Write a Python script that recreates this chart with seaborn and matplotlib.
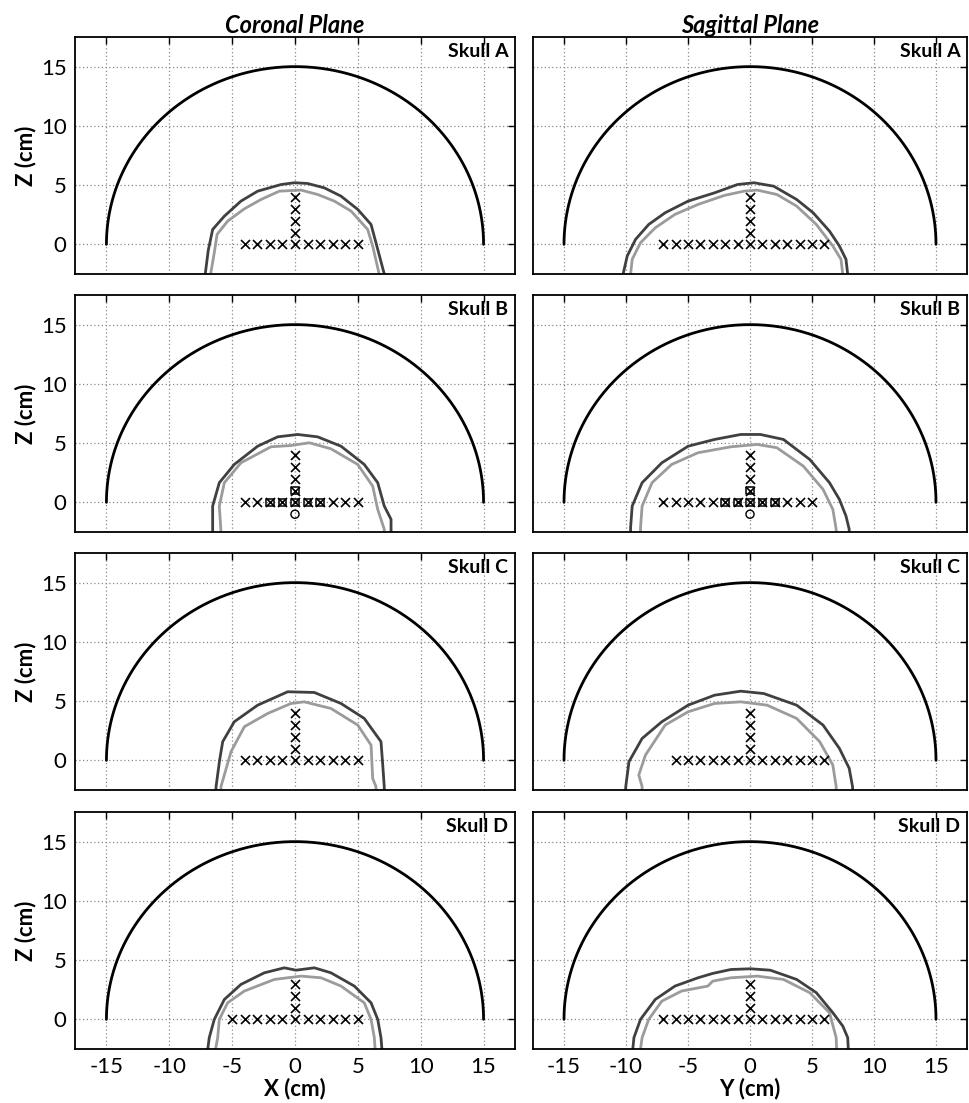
import numpy as np
import pandas as pd
import matplotlib
matplotlib.use("Agg")
import matplotlib.pyplot as plt
import seaborn as sns

sns.set_style("white")
plt.rcParams['font.family'] = ['Lato', 'DejaVu Sans']
plt.rcParams['text.color'] = 'black'
plt.rcParams['axes.labelcolor'] = 'black'

# ---------------- data ----------------
planes = ["Coronal Plane", "Sagittal Plane"]
skulls = ["Skull A", "Skull B", "Skull C", "Skull D"]
xlabels = ["X (cm)", "Y (cm)"]
ticks_x = [-15, -10, -5, 0, 5, 10, 15]
ticks_y = [0, 5, 10, 15]
hemisphere_radius = 15

# skull contours (x, z) in cm : outer (dark) and inner (light)
cor_A_outer = [(-7.2, -3), (-7.16, -2.67), (-6.9, -0.5), (-6.55, 1.26), (-5.62, 2.38), (-4.3, 3.65), (-2.97, 4.49),
               (-1.11, 5.05), (-0.05, 5.2), (1.0, 5.14), (2.33, 4.77), (3.66, 4.07), (4.99, 2.95), (6.05, 1.68),
               (6.44, 0.14), (7.1, -2.5), (7.15, -3)]
cor_A_inner = [(-6.74, -3), (-6.74, -2.67), (-6.42, -0.7), (-6.2, 0.84), (-5.36, 1.96), (-4.03, 3.0), (-2.7, 3.79),
               (-1.25, 4.49), (0.48, 4.58), (1.8, 4.21), (3.13, 3.65), (4.46, 2.81), (5.78, 1.26), (6.18, -0.14),
               (6.7, -2.53), (6.75, -3)]
sag_A_outer = [(-10.3, -3), (-10.24, -2.53), (-9.9, -0.98), (-9.23, 0.42), (-8.17, 1.68), (-6.84, 2.67), (-4.99, 3.65),
               (-2.86, 4.35), (-1.01, 5.05), (0.32, 5.2), (1.91, 4.91), (3.76, 3.79), (5.09, 2.67), (6.41, 1.12),
               (7.21, -0.14), (7.74, -1.26), (7.88, -2.53), (7.9, -3)]
sag_A_inner = [(-9.6, -3), (-9.63, -2.53), (-9.5, -1.26), (-8.83, 0.14), (-7.64, 1.4), (-6.05, 2.53), (-4.19, 3.37),
               (-2.07, 4.13), (-0.48, 4.49), (0.58, 4.58), (2.17, 4.21), (3.76, 3.23), (5.35, 1.68), (6.68, -0.14),
               (7.34, -1.26), (7.48, -2.53), (7.5, -3)]
cor_B_outer = [(-6.55, -3), (-6.55, -2.13), (-6.55, -0.31), (-6.02, 1.66), (-4.83, 3.2), (-2.97, 4.74), (-1.38, 5.53),
               (0.21, 5.73), (1.8, 5.53), (3.66, 4.74), (5.51, 3.2), (6.58, 1.66), (7.1, -0.31), (7.64, -1.43),
               (7.64, -3)]
cor_B_inner = [(-5.9, -3), (-5.9, -2.27), (-6.02, -0.31), (-5.62, 1.66), (-4.3, 3.34), (-1.91, 4.69), (-0.32, 4.8),
               (1.14, 5.03), (2.86, 4.52), (4.99, 3.2), (6.18, 1.37), (6.58, -0.59), (7.1, -2.27), (7.1, -3)]
sag_B_outer = [(-9.63, -3), (-9.63, -2.13), (-9.5, -0.31), (-8.7, 1.66), (-7.11, 3.34), (-4.99, 4.74), (-2.86, 5.31),
               (-0.75, 5.73), (0.84, 5.73), (2.7, 5.31), (4.82, 3.62), (6.41, 1.66), (7.21, 0.25), (7.74, -1.15),
               (8.0, -2.27), (8.0, -3)]
sag_B_inner = [(-8.83, -3), (-8.83, -2.13), (-8.7, -0.31), (-7.9, 1.66), (-6.32, 3.2), (-4.19, 4.19), (-1.54, 4.69),
               (0.58, 4.89), (2.17, 4.61), (4.3, 3.06), (5.89, 1.1), (6.68, -0.59), (6.95, -2.27), (6.95, -3)]
cor_C_outer = [(-6.3, -3), (-6.28, -2.22), (-6.0, 0.0), (-5.75, 1.58), (-4.83, 3.26), (-2.97, 4.66), (-0.58, 5.79),
               (1.54, 5.73), (3.66, 4.8), (5.51, 3.54), (6.84, 1.58), (6.98, -0.39), (7.1, -2.22), (7.1, -3)]
cor_C_inner = [(-5.9, -3), (-5.89, -2.22), (-5.09, 0.73), (-4.03, 2.84), (-2.17, 3.96), (-0.32, 4.8), (0.74, 4.94),
               (2.86, 4.38), (4.99, 2.98), (6.05, 1.29), (6.18, -1.52), (6.44, -2.22), (6.45, -3)]
sag_C_outer = [(-10.05, -3), (-10.02, -2.22), (-9.76, -0.11), (-8.7, 1.85), (-7.11, 3.26), (-4.99, 4.66), (-2.86, 5.5),
               (-0.75, 5.84), (1.11, 5.64), (3.76, 4.66), (5.89, 2.98), (7.21, 1.01), (8.0, -0.67), (8.27, -2.22),
               (8.3, -3)]
sag_C_inner = [(-8.7, -3), (-8.7, -2.22), (-8.97, -1.24), (-8.43, 0.45), (-6.84, 2.98), (-4.99, 4.1), (-2.86, 4.8),
               (-0.75, 4.94), (1.38, 4.66), (3.76, 3.54), (5.62, 1.58), (6.68, -0.39), (6.95, -2.22), (6.95, -3)]
cor_D_outer = [(-7.0, -3), (-6.82, -1.54), (-6.42, 0), (-5.62, 1.68), (-4.3, 2.95), (-2.44, 3.93), (-0.85, 4.35),
               (0.08, 4.15), (1.54, 4.35), (2.86, 3.93), (4.72, 2.81), (6.05, 1.4), (6.58, 0), (6.84, -1.54),
               (6.95, -3)]
cor_D_inner = [(-6.4, -3), (-6.15, -1.54), (-6.02, 0), (-5.36, 1.4), (-4.03, 2.39), (-1.64, 3.37), (0.48, 3.65),
               (2.07, 3.51), (3.66, 2.81), (5.51, 1.4), (6.05, 0), (6.31, -1.54), (6.4, -3)]
sag_D_outer = [(-9.5, -3), (-9.36, -1.54), (-8.83, 0), (-7.64, 1.68), (-6.05, 2.81), (-4.19, 3.51), (-3.0, 3.88),
               (-1.54, 4.21), (0.05, 4.27), (1.64, 4.15), (3.76, 3.37), (5.35, 2.25), (6.68, 0.56), (7.48, -0.56),
               (7.88, -1.54), (7.95, -3)]
sag_D_inner = [(-8.9, -3), (-8.7, -1.54), (-8.17, 0), (-7.11, 1.54), (-5.52, 2.39), (-3.4, 2.81), (-3.0, 3.23),
               (-1.54, 3.51), (0.58, 3.65), (2.7, 3.37), (4.82, 2.25), (6.41, 0.56), (6.95, -1.54), (7.0, -3)]

# measurement points: horizontal row at z=0 and vertical column at x=0
cor_h = [[-4, -3, -2, -1, 0, 1, 2, 3, 4, 5],
         [-4, -3, -2, -1, 0, 1, 2, 3, 4, 5],
         [-4, -3, -2, -1, 0, 1, 2, 3, 4, 5],
         [-5, -4, -3, -2, -1, 0, 1, 2, 3, 4, 5]]
sag_h = [[-7, -6, -5, -4, -3, -2, -1, 0, 1, 2, 3, 4, 5, 6],
         [-7, -6, -5, -4, -3, -2, -1, 0, 1, 2, 3, 4, 5],
         [-6, -5, -4, -3, -2, -1, 0, 1, 2, 3, 4, 5, 6],
         [-7, -6, -5, -4, -3, -2, -1, 0, 1, 2, 3, 4, 5, 6]]
v_col = [[1, 2, 3, 4], [1, 2, 3, 4], [1, 2, 3, 4], [1, 2, 3]]
# Skull B extra markers (boxed points and circle point)
boxed_h = [-2, -1, 0, 1, 2]
boxed_v = [1]
circle_z = [-1]

outer_contours = [[cor_A_outer, sag_A_outer], [cor_B_outer, sag_B_outer],
                  [cor_C_outer, sag_C_outer], [cor_D_outer, sag_D_outer]]
inner_contours = [[cor_A_inner, sag_A_inner], [cor_B_inner, sag_B_inner],
                  [cor_C_inner, sag_C_inner], [cor_D_inner, sag_D_inner]]
h_points = [cor_h, sag_h]

# ---------------- figure ----------------
W, H = 969, 1103
fig = plt.figure(figsize=(W / 100, H / 100), dpi=100)
lefts = [75, 533]
widths = [440, 434]
tops = [37, 295, 553, 812]
ph = 237

theta = np.linspace(0, np.pi, 400)
semi = pd.DataFrame({"x": hemisphere_radius * np.cos(theta), "z": hemisphere_radius * np.sin(theta)})

for r in range(4):
    for c in range(2):
        ax = fig.add_axes([lefts[c] / W, 1 - (tops[r] + ph) / H, widths[c] / W, ph / H])
        ax.set_xlim(-17.5, 17.5)
        ax.set_ylim(-2.5, 17.5)
        ax.set_xticks(ticks_x)
        ax.set_yticks(ticks_y)
        ax.grid(True, linestyle=(0, (1, 2)), color="#8a8a8a", linewidth=0.9)
        ax.set_axisbelow(True)

        sns.lineplot(data=semi, x="x", y="z", sort=False, estimator=None,
                     color="black", linewidth=2.0, ax=ax)
        od = pd.DataFrame(outer_contours[r][c], columns=["x", "z"])
        idf = pd.DataFrame(inner_contours[r][c], columns=["x", "z"])
        sns.lineplot(data=idf, x="x", y="z", sort=False, estimator=None, color="#9b9b9b", linewidth=2.0, ax=ax)
        sns.lineplot(data=od, x="x", y="z", sort=False, estimator=None, color="#404040", linewidth=2.0, ax=ax)

        hx = h_points[c][r]
        pts = pd.DataFrame({"x": hx + [0] * len(v_col[r]), "z": [0] * len(hx) + v_col[r]})
        sns.scatterplot(data=pts, x="x", y="z", marker="x", color="black", s=42, linewidth=1.2, ax=ax, zorder=5)
        if r == 1:
            bx = pd.DataFrame({"x": boxed_h + [0] * len(boxed_v), "z": [0] * len(boxed_h) + boxed_v})
            sns.scatterplot(data=bx, x="x", y="z", marker="s", facecolor="none", edgecolor="black",
                            s=30, linewidth=1.1, ax=ax, zorder=6)
            cd = pd.DataFrame({"x": [0] * len(circle_z), "z": circle_z})
            sns.scatterplot(data=cd, x="x", y="z", marker="o", facecolor="none", edgecolor="black",
                            s=34, linewidth=1.0, ax=ax, zorder=6)

        ax.tick_params(direction="in", top=True, right=True, length=5, width=1.0,
                       labelsize=16, pad=6, colors="black")
        for sp in ax.spines.values():
            sp.set_linewidth(1.3)
            sp.set_color("black")
        ax.set_xlabel("")
        ax.set_ylabel("")
        if r < 3:
            ax.set_xticklabels([])
        else:
            ax.set_xticklabels([str(t) for t in ticks_x])
            ax.set_xlabel(xlabels[c], fontsize=16, fontweight="bold", labelpad=0, color="black")
        if c == 1:
            ax.set_yticklabels([])
        else:
            ax.set_yticklabels([str(t) for t in ticks_y])
            ax.set_ylabel("Z (cm)", fontsize=16, fontweight="bold", labelpad=3, color="black")
        ax.text(0.985, 0.975, skulls[r], transform=ax.transAxes, ha="right", va="top",
                fontsize=14, fontweight="bold", color="black")
        if r == 0:
            ax.set_title(planes[c], fontsize=17, fontweight="bold", fontstyle="italic", pad=3, color="black")

fig.savefig("out.png", dpi=100)
